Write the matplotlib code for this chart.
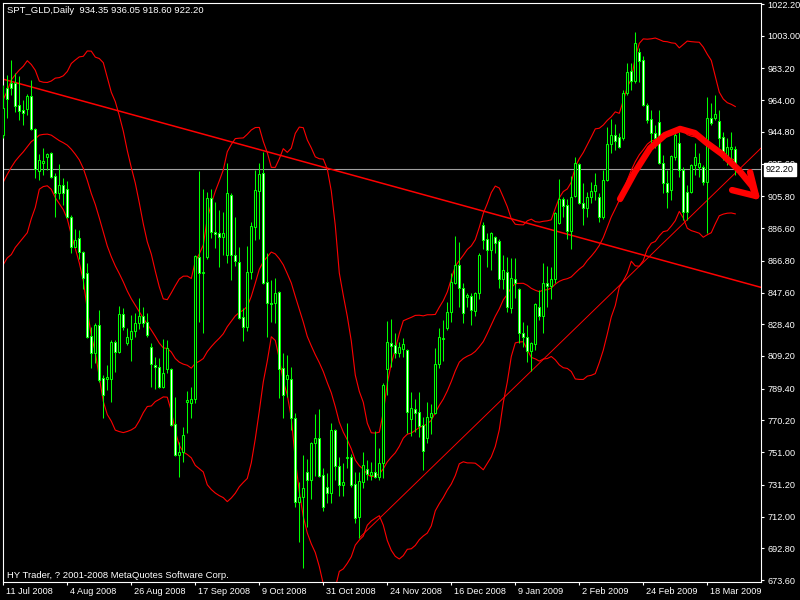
import matplotlib
matplotlib.use("Agg")
import matplotlib.pyplot as plt
from matplotlib import transforms
import numpy as np
import pandas as pd

# ---------------- data ----------------
opens = [942.9, 971.4, 974.4, 974.4, 961.1, 958.1, 958.7, 966.5, 946.6, 921.1,
         926.0, 929.6, 932.0, 918.1, 907.8, 912.7, 910.3, 893.3, 875.2, 880.6,
         872.1, 859.4, 821.3, 811.0, 828.0, 795.9, 795.3, 795.3, 817.7, 811.6,
         834.6, 817.1, 819.5, 824.3, 829.2, 833.4, 829.8, 814.6, 803.7, 802.6,
         790.4, 801.3, 801.3, 768.1, 749.2, 751.1, 781.4, 780.8, 783.2, 869.1,
         859.4, 869.1, 904.8, 884.2, 883.6, 881.2, 870.3, 906.6, 870.3, 866.1,
         832.8, 826.8, 860.0, 887.3, 909.0, 919.9, 854.0, 841.3, 841.3, 847.9,
         801.9, 795.3, 795.3, 771.7, 720.9, 723.9, 739.0, 734.2, 756.6, 759.6,
         737.2, 730.0, 726.4, 764.4, 742.6, 731.2, 747.5, 748.1, 731.8, 711.8,
         733.0, 740.8, 737.2, 739.0, 736.0, 744.5, 801.3, 817.1, 815.8, 811.0,
         813.4, 812.8, 771.1, 777.1, 775.3, 767.4, 759.6, 772.3, 774.7, 804.4,
         819.5, 826.2, 835.8, 853.4, 864.2, 850.3, 844.9, 845.5, 836.4, 847.3,
         888.5, 880.0, 873.3, 881.2, 878.8, 855.8, 860.0, 838.3, 855.8, 849.7,
         823.1, 820.7, 812.2, 816.5, 838.9, 833.4, 853.4, 851.6, 855.8, 889.7,
         904.2, 900.6, 884.8, 906.0, 925.4, 901.8, 898.7, 905.4, 909.0, 905.4,
         893.3, 915.7, 937.5, 942.9, 941.7, 941.1, 968.3, 981.6, 975.6, 993.2,
         988.3, 961.1, 952.6, 944.1, 950.8, 926.0, 913.9, 909.6, 929.6, 938.1,
         921.7, 908.4, 908.4, 924.8, 923.6, 923.6, 914.5, 953.2, 953.2, 951.4,
         941.7, 929.6, 934.4, 934.35]
highs = [973.2, 979.2, 988.3, 980.4, 978.6, 964.1, 967.7, 976.2, 947.2, 931.4,
         935.0, 932.0, 932.6, 919.9, 925.4, 916.9, 915.1, 894.5, 886.0, 885.4,
         872.7, 865.5, 826.8, 829.2, 837.1, 797.7, 803.7, 818.8, 818.8, 839.4,
         838.2, 826.2, 834.0, 835.2, 844.3, 838.8, 835.2, 817.1, 808.6, 808.0,
         819.5, 818.8, 801.9, 784.4, 757.2, 766.2, 788.0, 790.4, 870.3, 921.1,
         910.3, 908.4, 910.3, 902.4, 897.5, 896.3, 926.0, 907.8, 893.3, 875.2,
         838.2, 875.8, 890.3, 921.7, 926.0, 932.6, 871.5, 855.2, 856.4, 848.5,
         811.0, 809.8, 802.6, 774.7, 733.0, 749.3, 746.9, 757.2, 774.1, 777.1,
         741.5, 738.4, 768.7, 765.0, 748.1, 744.5, 768.7, 749.9, 739.0, 739.0,
         751.1, 746.3, 745.1, 763.8, 753.5, 792.9, 830.4, 831.6, 823.1, 817.7,
         820.1, 813.4, 787.4, 783.2, 787.4, 772.3, 781.4, 780.2, 814.0, 826.2,
         830.9, 841.9, 859.4, 881.8, 878.2, 853.4, 847.3, 847.3, 847.9, 871.5,
         890.3, 883.6, 884.2, 881.8, 880.0, 870.3, 869.1, 868.5, 868.5, 850.3,
         829.8, 828.0, 817.7, 841.3, 849.1, 865.5, 863.6, 863.0, 896.3, 916.3,
         905.4, 904.2, 918.1, 929.6, 926.0, 913.9, 908.4, 914.5, 919.9, 907.8,
         921.7, 947.8, 952.6, 949.6, 944.1, 970.2, 986.5, 986.5, 1005.3, 995.6,
         990.7, 962.3, 958.1, 949.0, 958.1, 930.8, 921.7, 930.8, 944.1, 944.7,
         923.6, 912.7, 925.4, 938.1, 932.0, 924.8, 966.0, 962.3, 967.1, 958.1,
         944.7, 941.1, 944.7, 936.05]
lows = [941.1, 953.2, 967.1, 956.8, 952.0, 949.0, 955.0, 946.0, 916.9, 915.7,
        918.7, 921.7, 917.0, 893.3, 904.2, 900.6, 893.0, 871.5, 875.0, 867.9,
        849.7, 820.2, 802.0, 805.0, 793.5, 771.7, 788.6, 781.4, 799.5, 811.0,
        824.9, 815.8, 806.2, 820.7, 825.6, 826.8, 820.7, 790.4, 789.2, 789.8,
        790.0, 798.9, 766.8, 748.8, 736.0, 745.1, 762.6, 771.7, 780.8, 829.8,
        823.1, 868.0, 880.6, 874.6, 863.0, 870.3, 865.5, 855.2, 863.6, 831.6,
        818.3, 824.3, 855.8, 879.4, 880.0, 852.8, 820.7, 829.8, 829.2, 783.8,
        771.7, 784.4, 764.4, 717.9, 696.7, 681.0, 705.7, 722.7, 736.6, 736.0,
        715.4, 720.3, 720.3, 734.2, 724.5, 724.5, 741.5, 730.0, 708.2, 699.1,
        729.4, 734.2, 734.2, 735.4, 734.2, 735.4, 785.6, 802.6, 808.0, 808.6,
        808.6, 762.6, 760.8, 763.2, 760.2, 740.2, 756.6, 762.0, 774.1, 802.0,
        806.2, 824.9, 829.8, 852.8, 838.9, 829.2, 838.9, 827.9, 833.4, 843.7,
        873.9, 863.0, 861.2, 871.5, 850.3, 849.7, 835.8, 835.2, 844.3, 817.1,
        814.6, 805.6, 800.1, 812.8, 830.9, 823.1, 838.9, 843.7, 853.4, 889.0,
        893.3, 880.0, 873.9, 905.5, 901.2, 888.5, 893.3, 901.8, 903.6, 890.3,
        892.1, 915.1, 932.0, 933.8, 935.0, 939.9, 967.1, 970.2, 974.4, 975.0,
        960.5, 950.2, 938.1, 935.0, 925.5, 907.8, 898.8, 903.6, 927.8, 917.5,
        891.5, 891.5, 907.8, 918.7, 917.5, 912.7, 883.6, 949.0, 952.0, 935.6,
        927.8, 924.8, 927.8, 918.60]
closes = [959.3, 964.7, 971.4, 960.5, 957.4, 956.2, 966.5, 946.6, 922.4, 927.8,
          927.2, 931.4, 917.5, 907.8, 912.7, 907.8, 893.3, 875.2, 879.4, 872.1,
          856.4, 820.7, 811.0, 828.0, 794.7, 785.6, 796.5, 817.7, 811.6, 834.6,
          826.8, 820.7, 824.3, 829.2, 833.4, 829.2, 821.9, 804.4, 802.6, 790.4,
          798.9, 814.0, 767.4, 749.2, 751.1, 761.4, 782.6, 783.2, 869.7, 859.4,
          860.0, 904.8, 884.2, 883.0, 881.2, 883.6, 907.8, 870.3, 866.7, 832.2,
          826.8, 860.0, 887.9, 909.6, 919.3, 853.4, 841.3, 840.7, 847.3, 801.3,
          785.6, 797.7, 771.7, 720.9, 723.9, 729.4, 734.2, 756.6, 759.6, 736.6,
          717.9, 726.4, 764.4, 742.6, 731.2, 733.0, 748.1, 731.2, 711.2, 733.6,
          743.2, 737.8, 739.0, 736.0, 744.5, 791.6, 817.7, 815.3, 811.0, 814.6,
          816.5, 775.3, 777.7, 774.7, 766.8, 751.7, 772.3, 774.7, 804.4, 820.7,
          820.1, 835.8, 854.0, 864.2, 850.3, 835.2, 846.1, 837.0, 847.3, 870.3,
          879.4, 873.3, 883.6, 877.6, 855.8, 861.2, 838.9, 856.4, 853.4, 823.1,
          820.7, 812.2, 817.1, 840.7, 833.4, 853.4, 851.6, 855.8, 895.7, 904.2,
          900.0, 884.8, 905.4, 926.0, 901.8, 898.7, 905.4, 909.0, 912.7, 893.3,
          915.7, 937.5, 942.9, 939.3, 935.6, 968.3, 981.0, 975.6, 998.6, 987.7,
          961.1, 952.0, 944.1, 941.1, 926.0, 913.9, 908.4, 930.2, 942.9, 921.7,
          896.3, 896.3, 924.8, 929.6, 926.0, 914.5, 953.2, 950.2, 955.6, 941.1,
          929.6, 935.6, 935.6, 922.20]
# closes of the 19 sessions before the first visible bar (feed the bands)
pre_closes = [872, 885, 886, 899, 903, 904, 885, 889, 883, 918,
              928, 930, 941, 946, 933, 923, 924, 940, 941]

date_labels = ["11 Jul 2008", "4 Aug 2008", "26 Aug 2008", "17 Sep 2008",
               "9 Oct 2008", "31 Oct 2008", "24 Nov 2008", "16 Dec 2008",
               "9 Jan 2009", "2 Feb 2009", "24 Feb 2009", "18 Mar 2009"]
date_label_bars = [0, 16, 32, 48, 64, 80, 96, 112, 128, 144, 160, 176]

price_labels = ["673.60", "692.80", "712.00", "731.20", "751.00", "770.20",
                "789.40", "809.20", "828.40", "847.60", "866.80", "886.60",
                "905.80", "925.60", "944.80", "964.00", "983.20", "1003.00",
                "1022.20"]

# trend lines: two anchor points each (bar index, price)
trend_down_bars = [0, 189]
trend_down_prices = [976.7, 851.0]
trend_up_bars = [89, 132]
trend_up_prices = [699.1, 800.1]

# hand drawn arrow (bar index, price)
arrow_bars = [154.2, 157.9, 161.7, 165.4, 169.2, 172.9, 175.9, 179.7, 183.9, 187.2, 188.2]
arrow_prices = [904.2, 920.5, 935.0, 942.9, 946.6, 944.1, 938.1, 931.4, 921.7, 912.0, 906.0]
arrow_head1_bars = [186.7, 188.2]
arrow_head1_prices = [920.5, 906.0]
arrow_head2_bars = [182.2, 188.2]
arrow_head2_prices = [909.6, 906.0]

title_text = "SPT_GLD,Daily  934.35 936.05 918.60 922.20"
footer_text = "HY Trader, ? 2001-2008 MetaQuotes Software Corp."
bid_price = 922.20

# ---------------- drawing ----------------
GREEN = "#00ff00"
RED = "#ff0000"
FONT = "Liberation Sans"
FS = 6.6

n = len(closes)
idx = np.arange(n)
O = np.array(opens); H = np.array(highs); L = np.array(lows); C = np.array(closes)

allc = pd.Series(pre_closes + closes, dtype=float)
mid = allc.rolling(20).mean().to_numpy()[-n:]
sd = allc.rolling(20).std(ddof=0).to_numpy()[-n:]
upper = mid + 2 * sd
lower = mid - 2 * sd

fig = plt.figure(figsize=(8, 6), dpi=100, facecolor="black")
ax = fig.add_axes([2.7 / 800, 18.3 / 600, 758.3 / 800, 579 / 600], facecolor="black")

xmin, xmax = -0.15, 189.43
ymin, ymax = 672.6, 1023.0
ax.set_xlim(xmin, xmax)
ax.set_ylim(ymin, ymax)

# bands
ax.plot(idx, upper, color=RED, lw=0.8, zorder=2)
ax.plot(idx, mid, color=RED, lw=0.8, zorder=2)
ax.plot(idx, lower, color=RED, lw=0.8, zorder=2)

# trend lines
s1 = (trend_down_prices[1] - trend_down_prices[0]) / (trend_down_bars[1] - trend_down_bars[0])
ax.plot([xmin, xmax], [trend_down_prices[0] + s1 * (xmin - trend_down_bars[0]),
                       trend_down_prices[0] + s1 * (xmax - trend_down_bars[0])],
        color=RED, lw=1.1, zorder=2)
s2 = (trend_up_prices[1] - trend_up_prices[0]) / (trend_up_bars[1] - trend_up_bars[0])
ax.plot([trend_up_bars[0], xmax], [trend_up_prices[0],
                                   trend_up_prices[0] + s2 * (xmax - trend_up_bars[0])],
        color=RED, lw=0.7, zorder=2)

# bid line
ax.axhline(bid_price, color="#a0a0a0", lw=0.8, zorder=1.5)

# candles
ax.vlines(idx, L, H, color=GREEN, lw=0.75, zorder=3)
bottoms = np.minimum(O, C)
heights = np.maximum(np.abs(C - O), 0.8)
fills = np.where(C >= O, "black", "white")
ax.bar(idx, heights, bottom=bottoms, width=0.55, color=fills,
       edgecolor=GREEN, linewidth=0.75, zorder=4)

# hand drawn arrow
akw = dict(color=RED, lw=4.6, solid_capstyle="round", solid_joinstyle="round", zorder=6)
ax.plot(arrow_bars, arrow_prices, **akw)
ax.plot(arrow_head1_bars, arrow_head1_prices, **akw)
ax.plot(arrow_head2_bars, arrow_head2_prices, **akw)

# axes styling
for sp in ax.spines.values():
    sp.set_color("white")
    sp.set_linewidth(0.8)

ax.yaxis.tick_right()
ax.set_yticks([float(v) for v in price_labels])
ax.set_yticklabels(price_labels)
ax.set_xticks(date_label_bars)
ax.set_xticklabels(date_labels)
ax.tick_params(axis="y", colors="white", length=2.5, width=0.8, pad=2,
               labelsize=FS, direction="out")
ax.tick_params(axis="x", colors="white", length=2.5, width=0.8, pad=1.2,
               labelsize=FS, direction="out")
for lbl in ax.get_xticklabels() + ax.get_yticklabels():
    lbl.set_fontfamily(FONT)
off = transforms.ScaledTranslation(2.5 / 100, 0, fig.dpi_scale_trans)
for lbl in ax.get_xticklabels():
    lbl.set_horizontalalignment("left")
    lbl.set_transform(lbl.get_transform() + off)

# bid price box on the price scale (covers the 925.60 label as in MT4)
ax.text(1.0065, bid_price, "922.20", transform=ax.get_yaxis_transform(),
        ha="left", va="center", color="black", fontsize=FS, family=FONT,
        bbox=dict(boxstyle="square,pad=0.2", fc="white", ec="white"),
        zorder=20, clip_on=False)

fig.text(7 / 800, 1 - 6 / 600, title_text, color="white", fontsize=FS + 0.2,
         family=FONT, ha="left", va="top")
fig.text(7 / 800, 1 - 580 / 600, footer_text, color="white", fontsize=FS + 0.2,
         family=FONT, ha="left", va="bottom")

fig.savefig("out.png", dpi=100, facecolor="black")
